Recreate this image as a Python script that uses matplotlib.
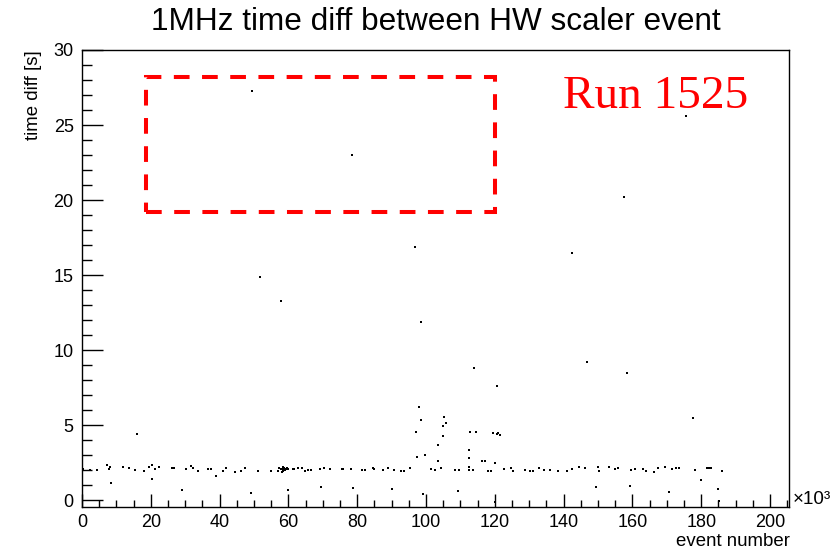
import matplotlib
matplotlib.use("Agg")
import matplotlib.pyplot as plt
from matplotlib.patches import Rectangle
from matplotlib.ticker import MultipleLocator
import numpy as np

# event number in units of 10^3
event_k = [
    # isolated high points
    49.5, 78.6, 175.5, 157.5, 96.7, 142.4, 51.8, 57.9, 98.4, 146.7, 158.4, 113.8, 120.7, 177.5, 16.1,
    # 0 - 48k
    0.3, 2.2, 4.3, 7.3, 8.0, 7.9, 8.3, 11.9, 13.6, 15.3, 17.9, 19.6, 20.3, 20.3, 21.2, 22.3,
    26.1, 26.6, 29.2, 30.2, 31.6, 32.4, 33.7, 36.5, 37.6, 39.0, 41.1, 41.8, 44.6, 46.2, 47.4,
    # 48k - 96k
    49.1, 51.2, 54.9, 56.9, 57.4, 57.8, 58.3, 58.6, 58.8, 59.3, 58.5, 59.0, 58.0, 59.5, 58.4, 59.8,
    60.0, 61.2, 61.7, 62.7, 63.9, 64.8, 65.8, 66.6, 69.3, 69.5, 70.3, 72.2, 75.6, 75.9, 78.2, 78.9,
    81.4, 82.3, 84.5, 85.0, 87.4, 88.9, 90.2, 90.8, 92.8, 93.7, 95.4,
    # 96k - 130k
    97.2, 97.5, 97.9, 98.4, 99.0, 99.6, 101.3, 102.5, 103.5, 103.5, 104.4, 104.8, 104.9, 105.2, 105.9,
    108.5, 109.3, 109.5, 112.4, 112.4, 112.6, 112.6, 112.9, 113.6, 114.6, 116.3, 117.0, 118.1, 119.0,
    119.6, 120.0, 120.0, 120.5, 121.0, 121.4, 122.7, 124.6, 125.4, 128.7,
    # 130k - 187k
    130.3, 131.0, 132.8, 134.2, 136.0, 138.5, 141.1, 142.5, 144.4, 146.3, 149.5, 149.9, 150.2, 153.3,
    154.9, 155.8, 159.2, 159.5, 160.6, 163.0, 163.8, 166.3, 167.5, 169.4, 170.5, 171.6, 172.6, 173.5,
    178.2, 180.0, 181.6, 182.2, 182.9, 185.0, 185.1, 185.9,
]
time_diff_s = [
    27.3, 23.0, 25.6, 20.2, 16.9, 16.5, 14.9, 13.3, 11.9, 9.2, 8.5, 8.8, 7.6, 5.5, 4.4,
    2.08, 2.03, 2.01, 2.37, 2.23, 2.05, 1.18, 2.21, 2.17, 2.03, 1.94, 2.21, 2.34, 1.41, 2.10, 2.21,
    2.12, 2.14, 0.65, 2.08, 2.30, 2.17, 1.96, 2.10, 2.10, 1.63, 1.96, 2.14, 1.90, 1.96, 2.17,
    0.49, 1.96, 1.96, 1.92, 2.12, 2.05, 2.10, 2.01, 2.17, 2.08, 1.95, 2.00, 1.90, 2.15, 2.20, 2.05,
    0.67, 2.05, 2.08, 2.12, 2.17, 1.94, 2.01, 2.01, 2.05, 0.89, 2.17, 2.08, 2.05, 2.10, 2.05, 0.83,
    1.99, 1.99, 2.14, 2.08, 2.03, 2.14, 0.76, 2.03, 1.96, 1.96, 2.12,
    4.55, 2.86, 6.18, 5.36, 0.40, 3.04, 2.08, 2.01, 2.63, 3.66, 2.14, 4.31, 4.96, 5.58, 5.16,
    1.99, 0.60, 1.99, 1.99, 2.19, 2.84, 3.35, 4.58, 1.99, 4.53, 2.63, 2.63, 1.92, 1.97,
    4.51, 2.50, -0.15, 4.42, 4.46, 4.37, 2.05, 2.14, 1.97, 1.99,
    1.94, 1.96, 2.17, 2.01, 2.03, 1.96, 1.92, 2.05, 2.19, 2.14, 0.87, 2.19, 1.96, 2.19,
    2.08, 2.14, 0.94, 2.01, 2.05, 2.10, 1.94, 1.90, 2.12, 2.19, 0.54, 2.10, 2.17, 2.17,
    2.03, 1.38, 2.14, 2.17, 2.17, 0.74, -0.04, 1.96,
]

title = "1MHz time diff between HW scaler event"
xlabel = "event number"
ylabel = "time diff [s]"
run_label = "Run 1525"
xlim = (0, 205.5)
ylim = (-0.45, 30)
box_x0, box_y0, box_x1, box_y1 = 18.6, 19.2, 120.0, 28.2

plt.rcParams['font.family'] = ['Liberation Sans', 'DejaVu Sans']

fig = plt.figure(figsize=(8.38, 5.52), dpi=100)
ax = fig.add_axes([82/838, 1-507/552, (789-82)/838, (507-50)/552])

ax.plot(event_k, time_diff_s, linestyle='none', marker='s', markersize=1.6,
        markeredgewidth=0, color='black')

ax.set_xlim(*xlim)
ax.set_ylim(*ylim)

ax.xaxis.set_major_locator(MultipleLocator(20))
ax.xaxis.set_minor_locator(MultipleLocator(5))
ax.yaxis.set_major_locator(MultipleLocator(5))
ax.yaxis.set_minor_locator(MultipleLocator(1))

ax.tick_params(axis='both', which='both', direction='in', top=False, right=False,
               labelsize=13, color='black', width=1.0)
ax.tick_params(axis='x', which='major', length=9.5, pad=5)
ax.tick_params(axis='x', which='minor', length=4.8)
ax.tick_params(axis='y', which='major', length=15, pad=6)
ax.tick_params(axis='y', which='minor', length=7.3)

for s in ax.spines.values():
    s.set_linewidth(1.0)
    s.set_color('black')

ax.add_patch(Rectangle((box_x0, box_y0), box_x1 - box_x0, box_y1 - box_y0,
                       fill=False, edgecolor='#ff0000', linewidth=2.9,
                       linestyle=(0, (3.9, 3.1)), zorder=3))

fig.text(436/838, 1-22/552, title, ha='center', va='center', fontsize=22.7)
fig.text(790/838, 1-541/552, xlabel, ha='right', va='center', fontsize=13.4)
fig.text(33/838, 1-50/552, ylabel, ha='center', va='top', rotation=90, fontsize=13.4)
fig.text(793/838, 1-500/552, "×10³", ha='left', va='center', fontsize=13.5)
fig.text(563/838, 1-108/552, run_label, ha='left', va='baseline', fontsize=34,
         color='#ff0000', family=['Liberation Serif', 'DejaVu Serif'])

fig.savefig("out.png", dpi=100)
